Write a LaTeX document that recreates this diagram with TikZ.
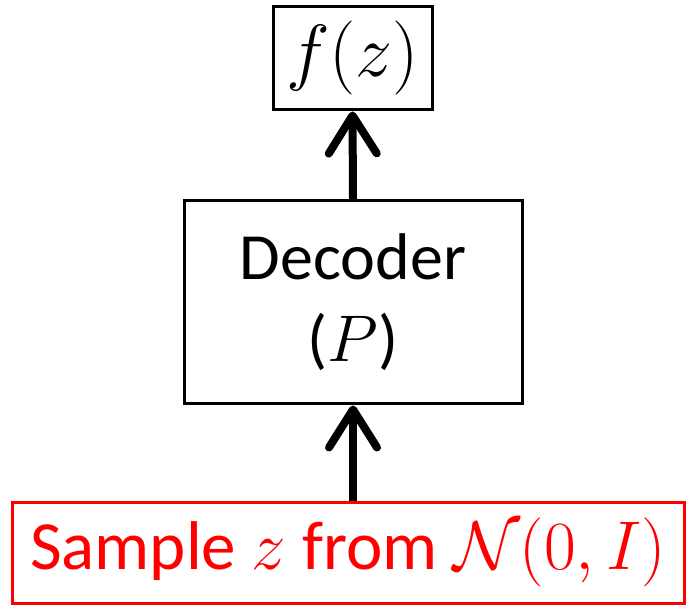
\RequirePackage{fix-cm}
\documentclass[tikz,border=0pt]{standalone}
\usepackage{amsmath}
\usepackage[no-math]{fontspec}
\setmainfont{Carlito}
\usetikzlibrary{arrows.meta}
\tikzset{box/.style = {draw, line width=3pt, inner sep=0pt,
                       font=\fontsize{66}{82}\selectfont},
         up/.style = {line width=8pt,
                      -{Straight Barb[length=38pt, width=48pt, round]}}}

\begin{document}
\begin{tikzpicture}[x=1pt, y=1pt]
      \useasboundingbox (0, 0) rectangle (690, 605);

      \node [box, minimum width=159pt, minimum height=103pt, font=\fontsize{74}{88}\selectfont] (fz) at (352.5, 546.5) {$f(z)$};
      \node [box, minimum width=338pt, minimum height=203pt, align=center] (dec) at (353, 302.5) {Decoder\\($P$)};
      \node [box, red, minimum width=672pt, minimum height=101pt, font=\fontsize{69}{82}\selectfont] (smp) at (348, 52.5) {Sample $z$ from $\mathcal{N}(0, I)$};

      \draw [up] (smp.north -| dec.south) -- (dec.south);
      \draw [up] (dec.north) -- (fz.south);
    \end{tikzpicture}
\end{document}
